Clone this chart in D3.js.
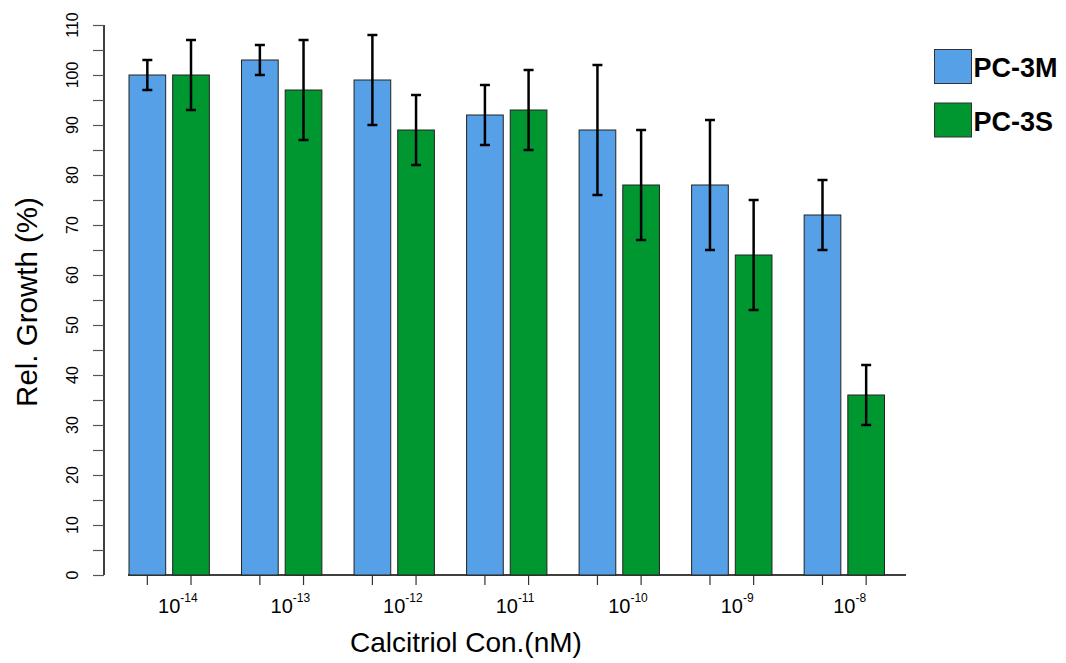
<!DOCTYPE html>
<html>
<head>
<meta charset="utf-8">
<script src="https://cdn.jsdelivr.net/npm/d3@7"></script>
<style>
  html, body { margin: 0; padding: 0; background: #fff; }
  svg { display: block; }
</style>
</head>
<body>
<svg id="chart" width="1066" height="663"></svg>
<script>
// ---- data ----
const categories = ["-14", "-13", "-12", "-11", "-10", "-9", "-8"]; // exponents of 10 (nM)
const seriesNames = ["PC-3M", "PC-3S"];
const pc3mValues = [100, 103, 99, 92, 89, 78, 72];
const pc3mErrors = [3, 3, 9, 6, 13, 13, 7];
const pc3sValues = [100, 97, 89, 93, 78, 64, 36];
const pc3sErrors = [7, 10, 7, 8, 11, 11, 6];
const yTicks = [0, 10, 20, 30, 40, 50, 60, 70, 80, 90, 100, 110];
const yMinorTicks = [5, 15, 25, 35, 45, 55, 65, 75, 85, 95, 105];
const colors = ["#55A0E6", "#009630"];

const rows = categories.map((c, i) => ({
  cat: c,
  bars: [
    { s: seriesNames[0], v: pc3mValues[i], e: pc3mErrors[i] },
    { s: seriesNames[1], v: pc3sValues[i], e: pc3sErrors[i] }
  ]
}));

const svg = d3.select("#chart");
const font = "'Liberation Sans', Arial, Helvetica, sans-serif";

const y = d3.scaleLinear().domain([0, 110]).range([575, 25]);
const x0 = d3.scaleBand().domain(categories).range([129, 884.5]).paddingInner(0.286).paddingOuter(0);
const x1 = d3.scaleBand().domain(seriesNames).range([0, x0.bandwidth()]).paddingInner(0.16);
const color = d3.scaleOrdinal().domain(seriesNames).range(colors);

// ---- y axis ----
const yAxisG = svg.append("g").attr("transform", "translate(104,0)");
yAxisG.append("line").attr("x1", 0).attr("x2", 0).attr("y1", y(110)).attr("y2", y(0))
  .attr("stroke", "#000").attr("stroke-width", 1.5);
yAxisG.selectAll("line.tk").data(yTicks.concat(yMinorTicks)).join("line")
  .attr("class", "tk")
  .attr("x1", -11).attr("x2", 0)
  .attr("y1", d => Math.round(y(d)) + 0.5).attr("y2", d => Math.round(y(d)) + 0.5)
  .attr("stroke", "#555").attr("stroke-width", 1.2);
yAxisG.selectAll("text").data(yTicks).join("text")
  .attr("transform", d => `translate(-26,${y(d)}) rotate(-90)`)
  .attr("text-anchor", "middle")
  .attr("font-family", font).attr("font-size", 16)
  .text(d => d);

// ---- x axis ----
svg.append("line").attr("x1", 128).attr("x2", 906).attr("y1", 575).attr("y2", 575)
  .attr("stroke", "#000").attr("stroke-width", 1.5);

const groups = svg.selectAll("g.grp").data(rows).join("g")
  .attr("class", "grp")
  .attr("transform", d => `translate(${x0(d.cat)},0)`);

groups.selectAll("line.xt").data(d => d.bars).join("line")
  .attr("class", "xt")
  .attr("x1", d => x1(d.s) + x1.bandwidth() / 2).attr("x2", d => x1(d.s) + x1.bandwidth() / 2)
  .attr("y1", 575).attr("y2", 585)
  .attr("stroke", "#333").attr("stroke-width", 1.2);

// bars
groups.selectAll("rect").data(d => d.bars).join("rect")
  .attr("x", d => x1(d.s))
  .attr("y", d => y(d.v))
  .attr("width", x1.bandwidth())
  .attr("height", d => y(0) - y(d.v))
  .attr("fill", d => color(d.s))
  .attr("stroke", "#222").attr("stroke-width", 1);

// error bars
const eb = groups.selectAll("g.eb").data(d => d.bars).join("g").attr("class", "eb")
  .attr("transform", d => `translate(${x1(d.s) + x1.bandwidth() / 2},0)`);
eb.append("line").attr("x1", 0).attr("x2", 0)
  .attr("y1", d => y(d.v + d.e)).attr("y2", d => y(d.v - d.e))
  .attr("stroke", "#000").attr("stroke-width", 2.5);
eb.append("line").attr("x1", -5).attr("x2", 5)
  .attr("y1", d => y(d.v + d.e)).attr("y2", d => y(d.v + d.e))
  .attr("stroke", "#000").attr("stroke-width", 2.5);
eb.append("line").attr("x1", -5).attr("x2", 5)
  .attr("y1", d => y(d.v - d.e)).attr("y2", d => y(d.v - d.e))
  .attr("stroke", "#000").attr("stroke-width", 2.5);

// x tick labels: "10" centred on group centre with superscript exponent
categories.forEach(c => {
  const cx = x0(c) + x0.bandwidth() / 2;
  const t = svg.append("text").attr("font-family", font).attr("y", 613);
  const base = t.append("tspan").attr("font-size", 20).text("10");
  t.append("tspan").attr("font-size", 12).attr("dy", -11).text(c);
  const w = base.node().getComputedTextLength();
  t.attr("x", cx - w / 2);
  base.attr("x", cx - w / 2);
});

// axis titles
svg.append("text")
  .attr("x", 466).attr("y", 652)
  .attr("text-anchor", "middle")
  .attr("font-family", font).attr("font-size", 28)
  .text("Calcitriol Con.(nM)");
svg.append("text")
  .attr("transform", "translate(37,302) rotate(-90)")
  .attr("text-anchor", "middle")
  .attr("font-family", font).attr("font-size", 29.5)
  .text("Rel. Growth (%)");

// legend
const lg = svg.selectAll("g.lg").data(seriesNames).join("g").attr("class", "lg")
  .attr("transform", (d, i) => `translate(934.5,${49.5 + i * 53.5})`);
lg.append("rect").attr("width", 37).attr("height", 34)
  .attr("fill", d => color(d)).attr("stroke", "#333").attr("stroke-width", 1);
lg.append("text").attr("x", 39).attr("y", 27.5)
  .attr("font-family", "'Liberation Sans', Arial, sans-serif")
  .attr("font-weight", "bold").attr("font-size", 27)
  .text(d => d);
</script>
</body>
</html>
